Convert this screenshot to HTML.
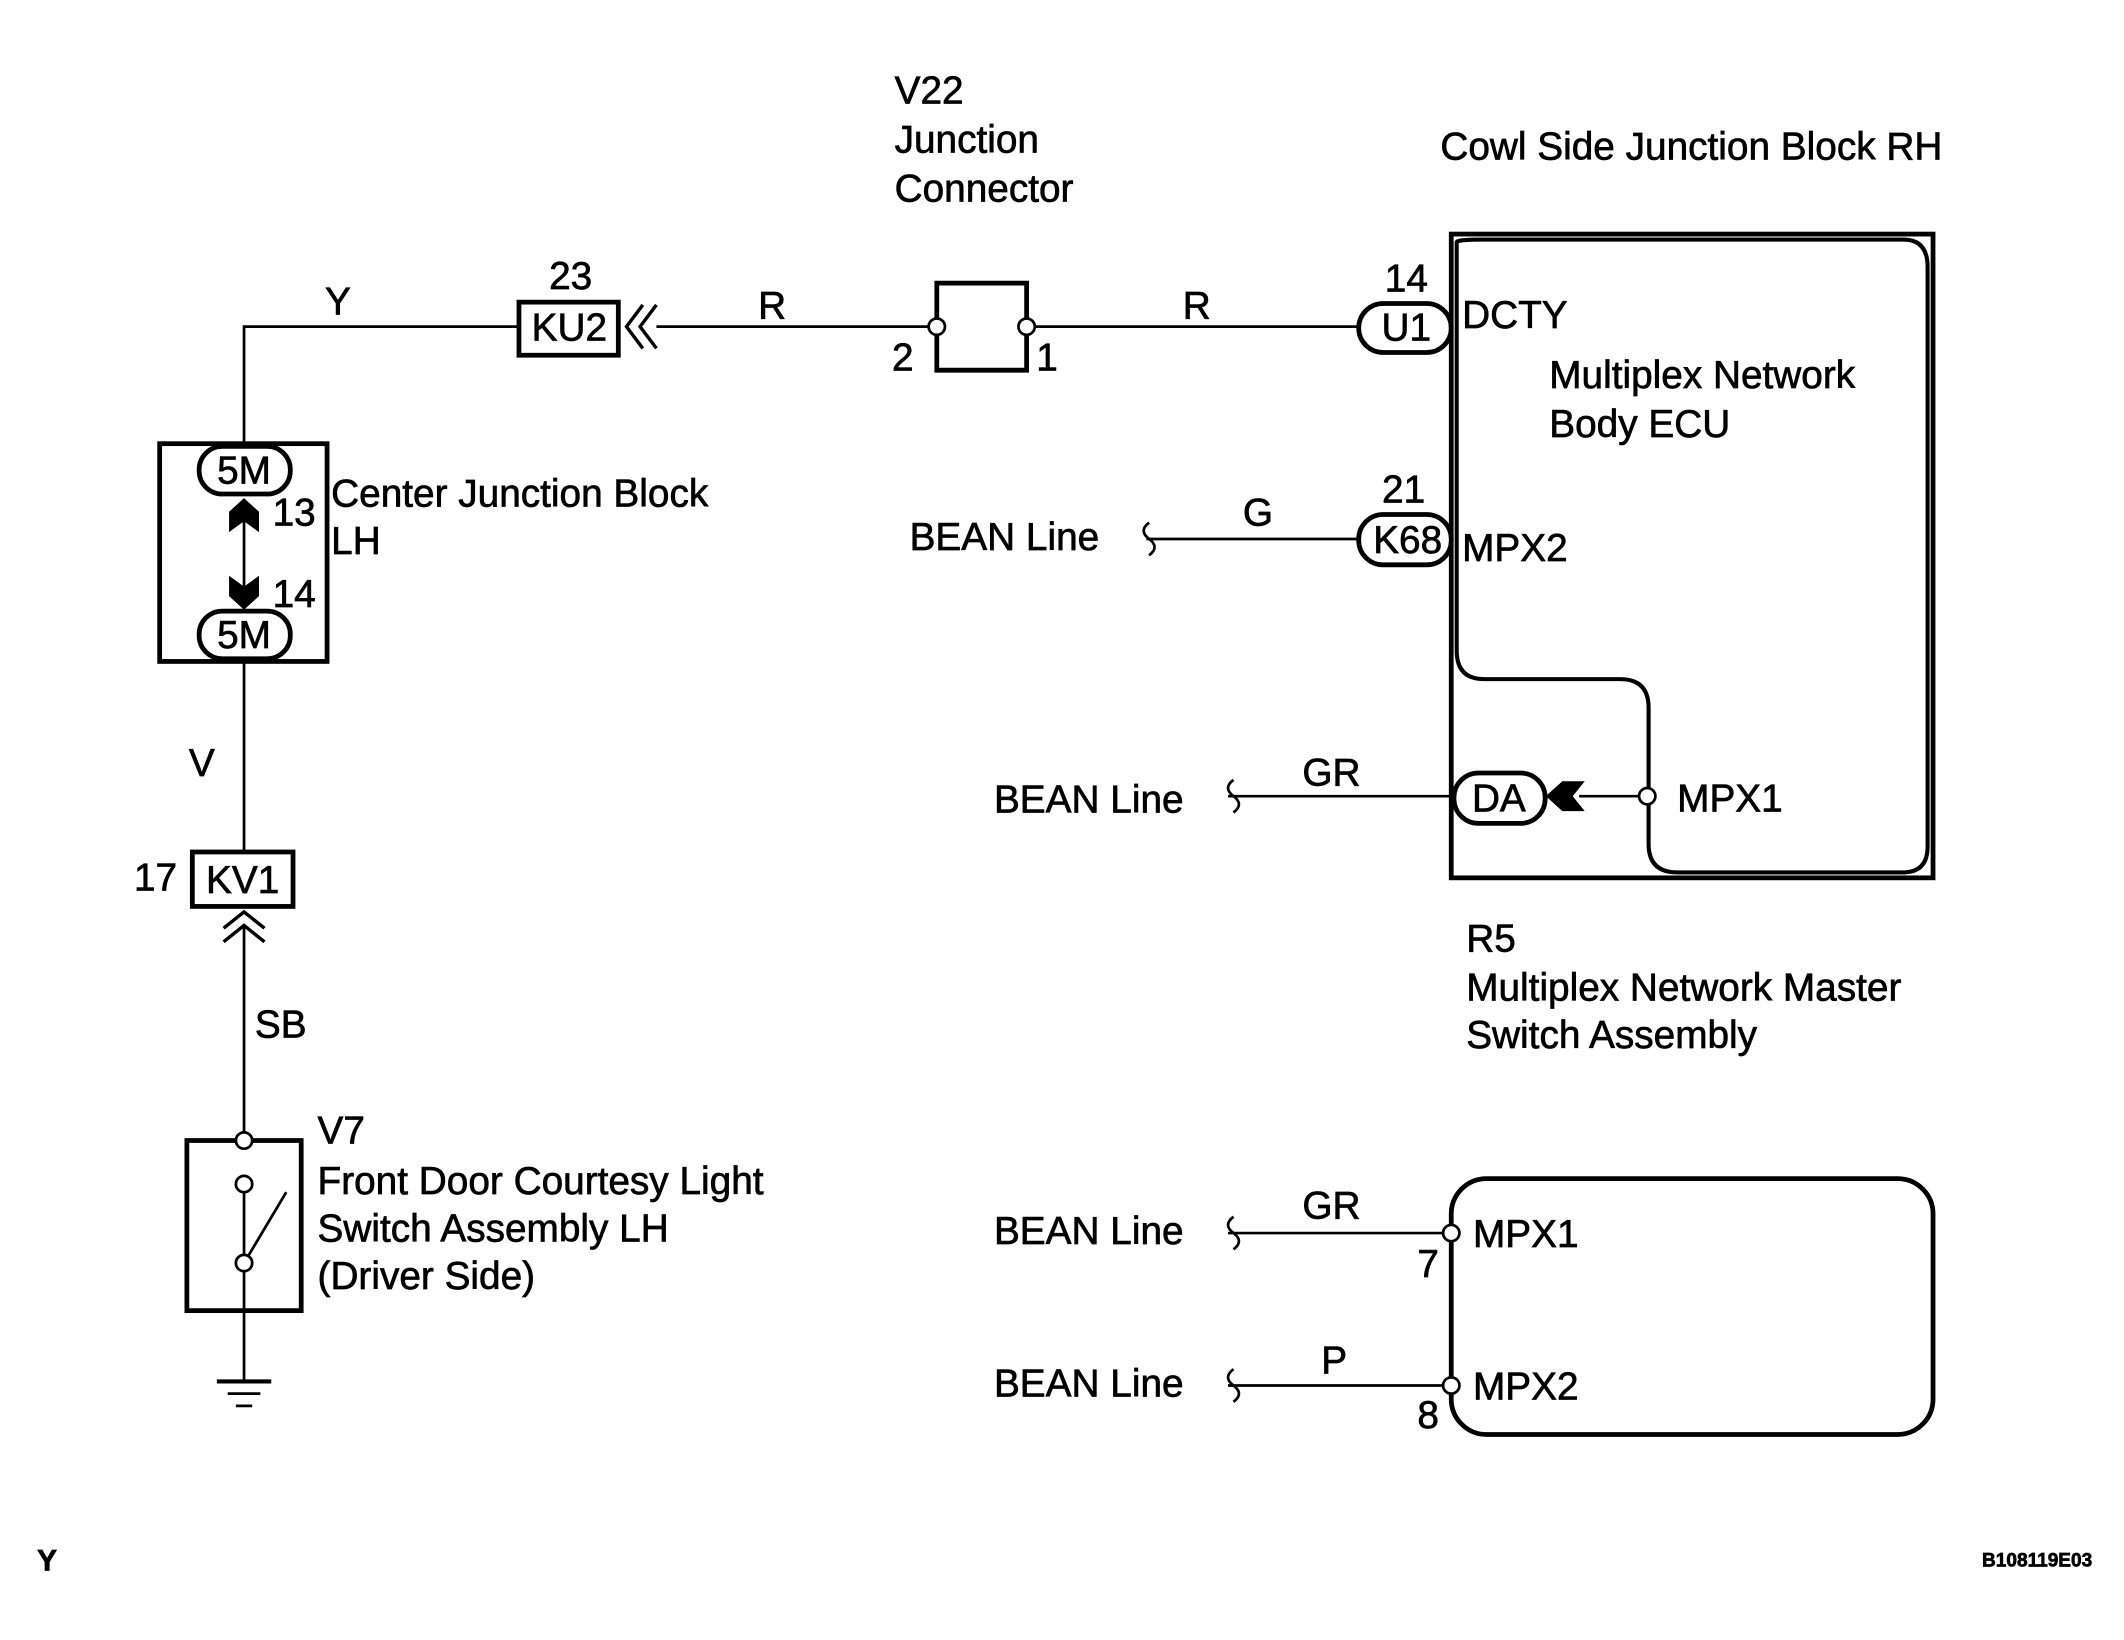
<!DOCTYPE html>
<html><head><meta charset="utf-8"><style>
html,body{margin:0;padding:0;background:#fff;}
svg{display:block;}
text{font-family:"Liberation Sans",sans-serif;font-size:28.5px;fill:#000;stroke:#000;stroke-width:0.5;dominant-baseline:central;}
text.c{text-anchor:middle;}
</style></head><body>
<svg width="2124" height="1640" viewBox="0 0 1560 1205" xmlns="http://www.w3.org/2000/svg">
<g stroke="#000" fill="none" stroke-width="2">
<polyline points="179,326 179,240 381,240"/>
<line x1="482" y1="240" x2="688" y2="240"/>
<line x1="754" y1="240" x2="1000" y2="240"/>
<rect x="381" y="222" width="73" height="39" stroke-width="3.5"/>
<polyline points="472,224 460,240 472,256" stroke-width="2.5"/>
<polyline points="482,224 470,240 482,256" stroke-width="2.5"/>
<polyline points="688,240 688,208 754,208 754,240" stroke-width="3.5"/>
<polyline points="688,240 688,272 754,272 754,240" stroke-width="3.5"/>
<circle cx="688" cy="240" r="6" fill="#fff"/>
<circle cx="754" cy="240" r="6" fill="#fff"/>
<rect x="998" y="223" width="68" height="36" rx="18" stroke-width="3.5" fill="#fff"/>
<rect x="1066" y="172" width="354" height="473" stroke-width="3.5"/>
<path d="M1070,178 Q1070,176 1090,176 L1398,176 Q1416,176 1416,196 L1416,622 Q1416,641 1398,641 L1232,641 Q1211,641 1211,620 L1211,520 Q1211,499 1190,499 L1090,499 Q1070,499 1070,478 Z" stroke-width="3"/>
<line x1="842" y1="396" x2="998" y2="396"/>
<path d="M844,384 q-8,6 0,12 q8,6 0,12" />
<rect x="998" y="378" width="68" height="37" rx="18" stroke-width="3.5" fill="#fff"/>
<line x1="902" y1="585" x2="1068" y2="585"/>
<path d="M906,573 q-8,6 0,12 q8,6 0,12"/>
<rect x="1068" y="568" width="67" height="37" rx="18" stroke-width="3.5" fill="#fff"/>
<line x1="1160" y1="585" x2="1204" y2="585"/>
<polygon points="1137,585 1148,575 1162,575 1154,585 1162,595 1148,595" fill="#000"/>
<circle cx="1210" cy="585" r="6" fill="#fff"/>
<rect x="117" y="326" width="123" height="160" stroke-width="3.5"/>
<rect x="146" y="328" width="67" height="35" rx="17" stroke-width="3.5" fill="#fff"/>
<rect x="146" y="449" width="67" height="35" rx="17" stroke-width="3.5" fill="#fff"/>
<line x1="179" y1="380" x2="179" y2="432"/>
<polygon points="179,366 190,376 190,391 179,383 168,391 168,376" fill="#000" stroke="none"/>
<polygon points="179,448 190,438 190,423 179,431 168,423 168,438" fill="#000" stroke="none"/>
<line x1="179" y1="486" x2="179" y2="626"/>
<rect x="141" y="626" width="74" height="40" stroke-width="3.5"/>
<polyline points="164,682 179,670 194,682" stroke-width="2.5"/>
<polyline points="164,692 179,680 194,692" stroke-width="2.5"/>
<line x1="179" y1="680" x2="179" y2="838"/>
<rect x="137" y="838" width="84" height="125" stroke-width="3.5"/>
<line x1="179" y1="876" x2="179" y2="922"/>
<line x1="179" y1="928" x2="210" y2="876"/>
<line x1="179" y1="934" x2="179" y2="1015"/>
<circle cx="179" cy="838" r="6" fill="#fff"/>
<circle cx="179" cy="870" r="6" fill="#fff"/>
<circle cx="179" cy="928" r="6" fill="#fff"/>
<line x1="159" y1="1015" x2="199" y2="1015" stroke-width="3"/>
<line x1="167" y1="1024" x2="191" y2="1024" stroke-width="2"/>
<line x1="173" y1="1033" x2="185" y2="1033" stroke-width="2"/>
<rect x="1066" y="866" width="354" height="188" rx="26" stroke-width="3.5"/>
<line x1="902" y1="906" x2="1060" y2="906"/>
<path d="M906,894 q-8,6 0,12 q8,6 0,12"/>
<line x1="902" y1="1018" x2="1060" y2="1018"/>
<path d="M906,1006 q-8,6 0,12 q8,6 0,12"/>
<circle cx="1066" cy="906" r="6" fill="#fff"/>
<circle cx="1066" cy="1018" r="6" fill="#fff"/>
</g>
<text x="657" y="67">V22</text>
<text x="657" y="103">Junction</text>
<text x="657" y="139">Connector</text>
<text x="1058" y="108">Cowl Side Junction Block RH</text>
<text class="c" x="248" y="222">Y</text>
<text class="c" x="419" y="203">23</text>
<text class="c" x="418" y="241">KU2</text>
<text class="c" x="567" y="225">R</text>
<text class="c" x="663" y="263">2</text>
<text class="c" x="769" y="263">1</text>
<text class="c" x="879" y="225">R</text>
<text class="c" x="1033" y="205">14</text>
<text class="c" x="1033" y="241">U1</text>
<text x="1074" y="232">DCTY</text>
<text x="1138" y="276">Multiplex Network</text>
<text x="1138" y="312">Body ECU</text>
<text class="c" x="1031" y="360">21</text>
<text class="c" x="1034" y="397">K68</text>
<text x="1074" y="403">MPX2</text>
<text class="c" x="924" y="377">G</text>
<text x="668" y="395">BEAN Line</text>
<text class="c" x="978" y="568">GR</text>
<text x="730" y="588">BEAN Line</text>
<text class="c" x="1101" y="587">DA</text>
<text x="1232" y="587">MPX1</text>
<text class="c" x="179" y="346">5M</text>
<text class="c" x="179" y="467">5M</text>
<text x="200" y="377">13</text>
<text x="200" y="437">14</text>
<text x="243" y="363">Center Junction Block</text>
<text x="243" y="398">LH</text>
<text class="c" x="148" y="561">V</text>
<text class="c" x="114" y="645">17</text>
<text class="c" x="178" y="647">KV1</text>
<text class="c" x="206" y="753">SB</text>
<text x="233" y="831">V7</text>
<text x="233" y="868">Front Door Courtesy Light</text>
<text x="233" y="903">Switch Assembly LH</text>
<text x="233" y="938">(Driver Side)</text>
<text x="1077" y="690">R5</text>
<text x="1077" y="726">Multiplex Network Master</text>
<text x="1077" y="761">Switch Assembly</text>
<text x="730" y="905">BEAN Line</text>
<text class="c" x="978" y="886">GR</text>
<text x="1082" y="907">MPX1</text>
<text class="c" x="1049" y="929">7</text>
<text x="730" y="1017">BEAN Line</text>
<text class="c" x="980" y="1000">P</text>
<text x="1082" y="1019">MPX2</text>
<text class="c" x="1049" y="1040">8</text>
<text x="27" y="1147" style="font-weight:bold;font-size:22px">Y</text>
<text x="1456" y="1147" style="font-weight:bold;font-size:14px">B108119E03</text>
</svg>
</body></html>
